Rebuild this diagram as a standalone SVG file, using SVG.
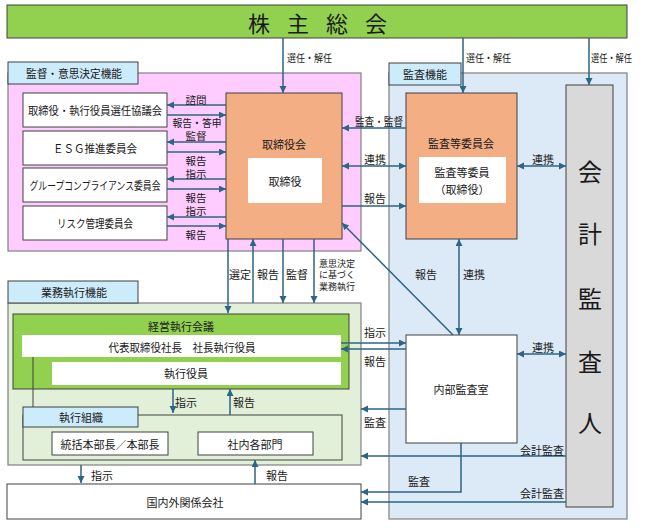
<svg xmlns="http://www.w3.org/2000/svg" width="645" height="528" viewBox="0 0 645 528">
<defs>
<style>
text{font-family:"Noto Sans CJK JP","Noto Sans",sans-serif;fill:#1a1a1a;}
.t{font-size:11px;text-anchor:middle;dominant-baseline:central;}
.m{font-size:10.5px;text-anchor:middle;dominant-baseline:central;}
.s{font-size:10px;text-anchor:start;dominant-baseline:central;}
.r{font-size:11px;text-anchor:end;dominant-baseline:central;}
.big{font-size:24px;text-anchor:middle;dominant-baseline:central;}
.box{stroke:#404040;stroke-width:1;}
.pan{stroke:#808080;stroke-width:1.2;}
.w{fill:#ffffff;}
.tab{fill:#CCEBFB;stroke:#404040;stroke-width:1;}
.sal{fill:#F4AE84;stroke:#404040;stroke-width:1;}
.c{fill:none;stroke:#2C6585;stroke-width:1.5;}
.e{marker-end:url(#ah);}
.d{marker-start:url(#ah);marker-end:url(#ah);}
</style>
<marker id="ah" markerUnits="userSpaceOnUse" markerWidth="8" markerHeight="8" refX="7" refY="3.5" orient="auto-start-reverse">
<path d="M0,0 L7,3.5 L0,7 z" fill="#2C6585"/>
</marker>
</defs>

<!-- panels -->
<g id="panel-supervision">
<rect x="8" y="73" width="353" height="178" fill="#FFCCFF" class="pan"/>
<rect x="8" y="62" width="130" height="22" class="tab"/>
<text x="74" y="73" class="t" textLength="96" lengthAdjust="spacingAndGlyphs">監督・意思決定機能</text>
</g>
<g id="panel-audit">
<rect x="389" y="73" width="238" height="446" fill="#DCE9F6" class="pan"/>
<rect x="389" y="63" width="72" height="22" class="tab"/>
<text x="425" y="74" class="t">監査機能</text>
</g>
<g id="panel-execution">
<rect x="8" y="303" width="353" height="162" fill="#E2F0D9" class="pan"/>
<rect x="8" y="281" width="130" height="22" class="tab"/>
<text x="74" y="292" class="t">業務執行機能</text>
</g>

<!-- nodes -->
<g id="shareholders">
<rect x="7" y="5" width="620" height="33" fill="#92D050" class="box"/>
<text x="259 298 337 376" y="22" style="font-size:22px;text-anchor:middle;dominant-baseline:central;">株主総会</text>
</g>
<g id="nomination">
<rect x="23" y="93" width="144" height="34" class="box w"/>
<text x="95" y="110" class="t" textLength="134" lengthAdjust="spacingAndGlyphs">取締役・執行役員選任協議会</text>
</g>
<g id="esg">
<rect x="23" y="131" width="144" height="34" class="box w"/>
<text x="95" y="148" class="t" textLength="84" lengthAdjust="spacingAndGlyphs">ＥＳＧ推進委員会</text>
</g>
<g id="compliance">
<rect x="23" y="168" width="144" height="34" class="box w"/>
<text x="95" y="185" class="t" textLength="131" lengthAdjust="spacingAndGlyphs">グループコンプライアンス委員会</text>
</g>
<g id="risk">
<rect x="23" y="206" width="144" height="34" class="box w"/>
<text x="95" y="223" class="t" textLength="76" lengthAdjust="spacingAndGlyphs">リスク管理委員会</text>
</g>
<g id="board">
<rect x="226" y="93" width="116" height="146" class="sal"/>
<text x="284" y="144" class="t">取締役会</text>
<rect x="248" y="158" width="74" height="45" fill="#ffffff"/>
<text x="285" y="181" class="t">取締役</text>
</g>
<g id="audit-committee">
<rect x="406" y="93" width="111" height="146" class="sal"/>
<text x="461" y="143" class="t">監査等委員会</text>
<rect x="419" y="157" width="87" height="46" fill="#ffffff"/>
<text x="462" y="172" class="t">監査等委員</text>
<text x="462" y="189" class="t">（取締役）</text>
</g>
<g id="auditor">
<rect x="566" y="85" width="47" height="422" fill="#D9D9D9" class="box"/>
<text x="590" y="170" class="big">会</text>
<text x="590" y="232" class="big">計</text>
<text x="590" y="297" class="big">監</text>
<text x="590" y="360" class="big">査</text>
<text x="590" y="421" class="big">人</text>
</g>
<g id="exec-meeting">
<rect x="13" y="314" width="336" height="75" fill="#92D050" class="box"/>
<text x="181" y="326" class="t">経営執行会議</text>
<rect x="22" y="335" width="319" height="22" fill="#ffffff"/>
<text x="182" y="347" class="t" textLength="147" lengthAdjust="spacingAndGlyphs">代表取締役社長　社長執行役員</text>
<rect x="52" y="362" width="289" height="23" fill="#ffffff"/>
<text x="186" y="373" class="t">執行役員</text>
</g>
<g id="exec-org">
<rect x="23" y="415" width="319" height="45" fill="#E2F0D9" class="box"/>
<rect x="23" y="407" width="115" height="20" class="tab"/>
<text x="81" y="417" class="t">執行組織</text>
</g>
<g id="division-heads">
<rect x="52" y="432" width="116" height="23" class="box w"/>
<text x="110" y="444" class="t">統括本部長／本部長</text>
</g>
<g id="departments">
<rect x="198" y="432" width="115" height="23" class="box w"/>
<text x="255" y="444" class="t">社内各部門</text>
</g>
<g id="internal-audit">
<rect x="406" y="335" width="111" height="108" class="box w"/>
<text x="461" y="389" class="t">内部監査室</text>
</g>
<g id="group-companies">
<rect x="7" y="484" width="354" height="35" class="box w"/>
<text x="185" y="502" class="t">国内外関係会社</text>
</g>

<!-- connectors -->
<g id="connectors">
<path d="M283,38 V93" class="c e"/>
<path d="M463,38 V93" class="c e"/>
<path d="M589,38 V85" class="c e"/>
<path d="M226,105 H167" class="c e"/>
<path d="M167,115 H226" class="c e"/>
<path d="M226,142 H167" class="c e"/>
<path d="M167,152 H226" class="c e"/>
<path d="M226,179 H167" class="c e"/>
<path d="M167,189 H226" class="c e"/>
<path d="M226,217 H167" class="c e"/>
<path d="M167,226 H226" class="c e"/>
<path d="M406,128 H342" class="c e"/>
<path d="M342,166 H406" class="c d"/>
<path d="M342,206 H406" class="c e"/>
<path d="M517,166 H566" class="c d"/>
<path d="M228,239 V313" class="c e"/>
<path d="M253,303 V239" class="c e"/>
<path d="M283,239 V303" class="c e"/>
<path d="M314,239 V303" class="c e"/>
<path d="M453,335 L342,223" class="c e"/>
<path d="M459,239 V335" class="c d"/>
<path d="M341,343 H406" class="c e"/>
<path d="M406,349 H341" class="c e"/>
<path d="M517,354 H566" class="c d"/>
<path d="M406,409 H361" class="c e"/>
<path d="M566,456 H361" class="c e"/>
<path d="M461,443 V492 H361" class="c e"/>
<path d="M566,502 H361" class="c e"/>
<path d="M173,389 V413" class="c e"/>
<path d="M230,415 V389" class="c e"/>
<path d="M81,465 V483" class="c e"/>
<path d="M255,484 V460" class="c e"/>
<path d="M33,357 V407" fill="none" stroke="#404040" stroke-width="1"/>

<text x="287" y="57" class="s" style="font-size:10.5px" textLength="45" lengthAdjust="spacingAndGlyphs">選任・解任</text>
<text x="466" y="57" class="s" style="font-size:10.5px" textLength="45" lengthAdjust="spacingAndGlyphs">選任・解任</text>
<text x="591" y="57" class="s" style="font-size:10.5px" textLength="41" lengthAdjust="spacingAndGlyphs">選任・解任</text>
<text x="196" y="99" class="m">諮問</text>
<text x="197" y="122" class="m" textLength="49" lengthAdjust="spacingAndGlyphs">報告・答申</text>
<text x="196" y="135.5" class="m">監督</text>
<text x="196" y="160" class="m">報告</text>
<text x="196" y="173.5" class="m">指示</text>
<text x="196" y="197" class="m">報告</text>
<text x="196" y="210.5" class="m">指示</text>
<text x="196" y="234" class="m">報告</text>
<text x="379" y="121" class="t" textLength="48" lengthAdjust="spacingAndGlyphs">監査・監督</text>
<text x="375" y="159" class="t">連携</text>
<text x="375" y="198" class="t">報告</text>
<text x="543" y="159" class="t">連携</text>
<text x="240" y="274" class="t">選定</text>
<text x="268" y="274" class="t">報告</text>
<text x="297" y="274" class="t">監督</text>
<text x="319" y="263" class="s" style="font-size:9px">意思決定</text>
<text x="319" y="274.5" class="s" style="font-size:9px">に基づく</text>
<text x="319" y="286" class="s" style="font-size:9px">業務執行</text>
<text x="426" y="274" class="t">報告</text>
<text x="474" y="274" class="t">連携</text>
<text x="375" y="332" class="t">指示</text>
<text x="375" y="361" class="t">報告</text>
<text x="543" y="347" class="t">連携</text>
<text x="375" y="422" class="t">監査</text>
<text x="564" y="450" class="r">会計監査</text>
<text x="419" y="481" class="t">監査</text>
<text x="564" y="493" class="r">会計監査</text>
<text x="186" y="402" class="t">指示</text>
<text x="244" y="402" class="t">報告</text>
<text x="102" y="475" class="t">指示</text>
<text x="277" y="475" class="t">報告</text>
</g>
</svg>
